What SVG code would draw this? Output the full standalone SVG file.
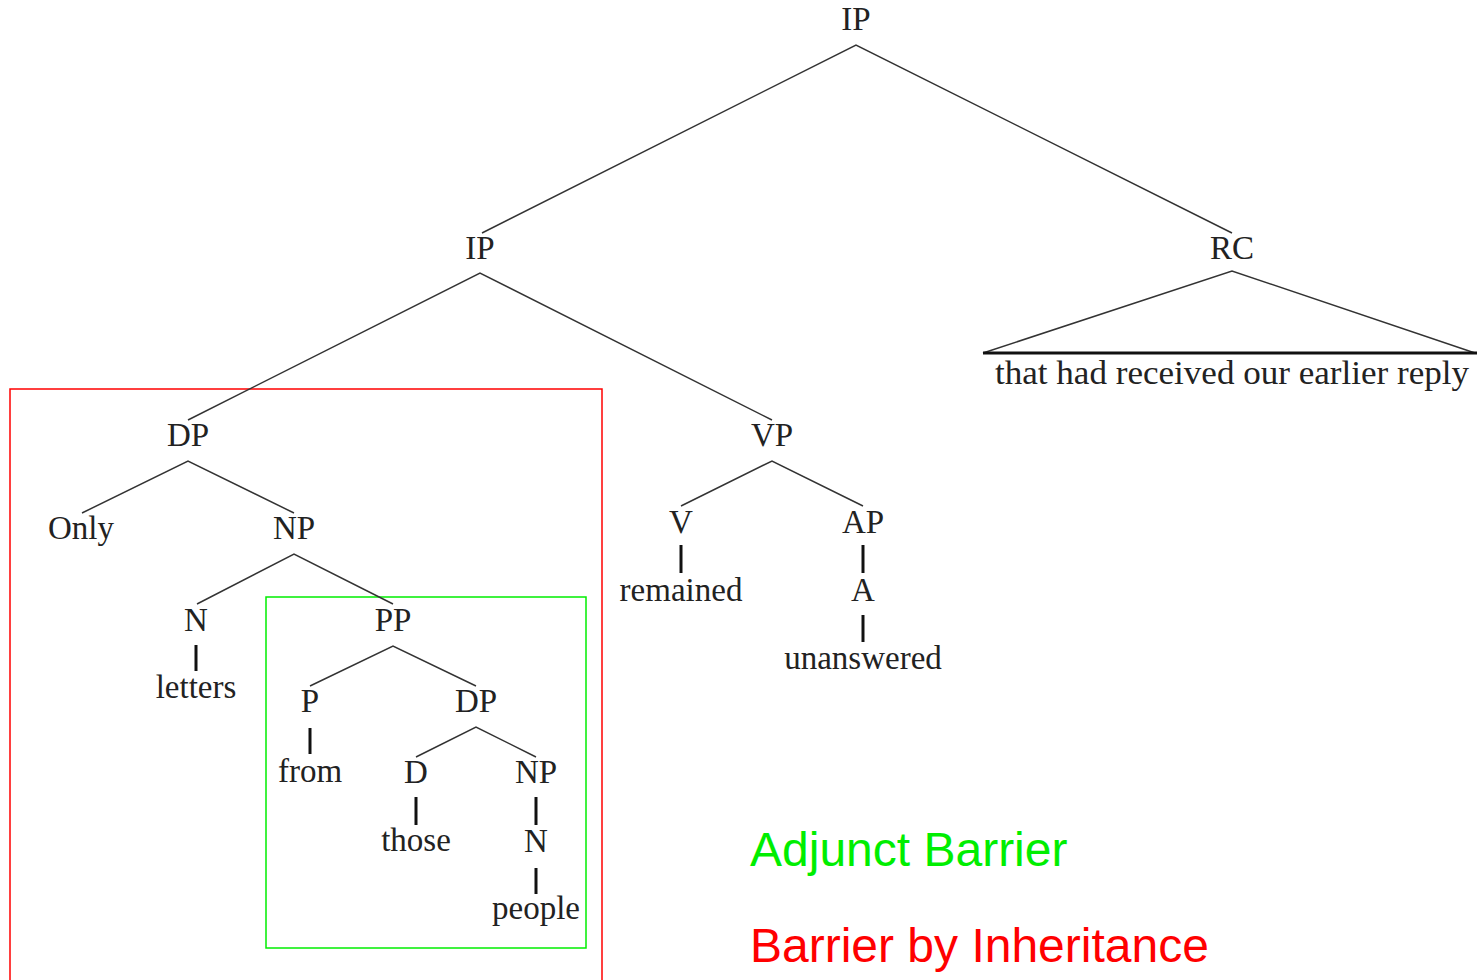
<svg xmlns="http://www.w3.org/2000/svg" width="1477" height="980" viewBox="0 0 1477 980">
<style>
.t{font-family:"Liberation Serif","DejaVu Serif",serif;font-size:33px;fill:#222;text-anchor:middle}
.e{stroke:#333;stroke-width:1.5;fill:none}
.v{stroke:#111;stroke-width:3;fill:none}
.lg{font-family:"Liberation Sans",Arial,sans-serif;font-size:48px}
</style>
<rect width="1477" height="980" fill="#fff"/>
<g id="boxes">
<rect x="10" y="389" width="592" height="620" fill="none" stroke="#ff0000" stroke-width="1.5"/>
<rect x="266" y="597" width="320" height="351" fill="none" stroke="#00ee00" stroke-width="1.5"/>
</g>
<g id="connectors">
<path class="e" d="M482,233 L856,45 L1232,233"/>
<path class="e" d="M188,420 L480,273 L772,420"/>
<path class="e" d="M983,353 L1232,271 L1475,353"/>
<line class="v" x1="983" y1="353" x2="1477" y2="353"/>
<path class="e" d="M82,513 L188,461 L294,513"/>
<path class="e" d="M197,604 L294,554 L393,604"/>
<path class="e" d="M310,686 L393,646 L476,686"/>
<path class="e" d="M416,757 L476,727 L536,757"/>
<path class="e" d="M681,506 L772,461 L863,506"/>
<line class="v" x1="196" y1="645" x2="196" y2="671"/>
<line class="v" x1="310" y1="728" x2="310" y2="754"/>
<line class="v" x1="416" y1="797" x2="416" y2="825"/>
<line class="v" x1="536" y1="797" x2="536" y2="825"/>
<line class="v" x1="536" y1="868" x2="536" y2="894"/>
<line class="v" x1="681" y1="545" x2="681" y2="573"/>
<line class="v" x1="863" y1="545" x2="863" y2="573"/>
<line class="v" x1="863" y1="615" x2="863" y2="642"/>
</g>
<g id="n-ip-top"><text class="t" x="856" y="30">IP</text></g>
<g id="n-ip"><text class="t" x="480" y="259">IP</text></g>
<g id="n-rc"><text class="t" x="1232" y="259">RC</text><text class="t" x="1232" y="384" textLength="474" lengthAdjust="spacingAndGlyphs">that had received our earlier reply</text></g>
<g id="n-dp"><text class="t" x="188" y="446">DP</text></g>
<g id="n-only"><text class="t" x="81" y="539">Only</text></g>
<g id="n-np"><text class="t" x="294" y="539">NP</text></g>
<g id="n-n"><text class="t" x="196" y="631">N</text></g>
<g id="n-letters"><text class="t" x="196" y="698">letters</text></g>
<g id="n-pp"><text class="t" x="393" y="631">PP</text></g>
<g id="n-p"><text class="t" x="310" y="712">P</text></g>
<g id="n-from"><text class="t" x="310" y="782">from</text></g>
<g id="n-dp2"><text class="t" x="476" y="712">DP</text></g>
<g id="n-d"><text class="t" x="416" y="783">D</text></g>
<g id="n-those"><text class="t" x="416" y="851">those</text></g>
<g id="n-np2"><text class="t" x="536" y="783">NP</text></g>
<g id="n-n2"><text class="t" x="536" y="852">N</text></g>
<g id="n-people"><text class="t" x="536" y="919">people</text></g>
<g id="n-vp"><text class="t" x="772" y="446">VP</text></g>
<g id="n-v"><text class="t" x="681" y="533">V</text></g>
<g id="n-remained"><text class="t" x="681" y="601">remained</text></g>
<g id="n-ap"><text class="t" x="863" y="533">AP</text></g>
<g id="n-a"><text class="t" x="863" y="601">A</text></g>
<g id="n-unanswered"><text class="t" x="863" y="669">unanswered</text></g>
<g id="legend">
<text class="lg" x="750" y="866" fill="#00ee00">Adjunct Barrier</text>
<text class="lg" x="750" y="962" fill="#ff0000">Barrier by Inheritance</text>
</g>
</svg>
